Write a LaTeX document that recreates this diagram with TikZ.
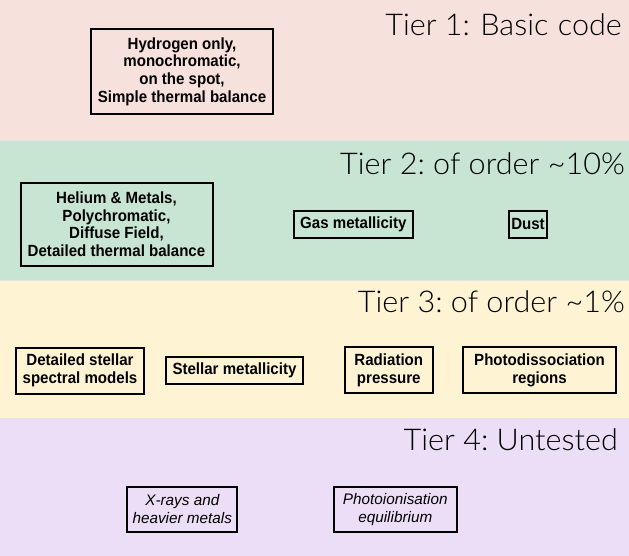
\documentclass[tikz,border=0pt]{standalone}
\usepackage{fontspec}
\setmainfont{Liberation Sans}
\newfontfamily\boxfont[FakeStretch=0.93]{Liberation Sans}
\newfontfamily\lightfont[Numbers=Monospaced,FakeStretch=1.02]{Lato Light}
\definecolor{tierA}{HTML}{F7E1DD}
\definecolor{tierB}{HTML}{C8E5D3}
\definecolor{tierC}{HTML}{FEF4D4}
\definecolor{tierD}{HTML}{ECDEF6}
\frenchspacing
\tikzset{
  tiertitle/.style={anchor=base east, inner sep=0pt, font=\lightfont\fontsize{30}{34}\selectfont},
  ibox/.style={draw=black, line width=2pt, inner sep=0pt, align=center,
    font=\boxfont\bfseries\fontsize{16.2}{17.6}\selectfont},
  tbox/.style={draw=black, line width=2pt, inner sep=0pt, align=center,
    font=\itshape\fontsize{15.3}{18}\selectfont},
}
\begin{document}
\begin{tikzpicture}[x=1pt,y=-1pt]
\useasboundingbox (0,0) rectangle (629,556);
\fill[tierA] (0,0) rectangle (629,141);
\fill[tierB] (0,141) rectangle (629,280);
\fill[tierC] (0,280) rectangle (629,418);
\fill[tierD] (0,418) rectangle (629,556);
\draw[black!10, line width=1pt] (0,141) -- (629,141) (0,280) -- (629,280) (0,418) -- (629,418);

\node[tiertitle] (t1) at (622,36) {Tier 1:\hspace{2pt} Basic\hspace{1pt} code};
\node[tiertitle] (t2) at (625,175) {Tier 2: of order \textasciitilde10\%};
\node[tiertitle] (t3) at (625,312) {Tier 3: of order \textasciitilde1\%};
\node[tiertitle] (t4) at (618,450.5) {Tier 4: Untested};

\node[ibox, minimum width=182, minimum height=85] (hyd) at (182,71.5)
  {Hydrogen only,\\monochromatic,\\on the spot,\\Simple thermal balance};
\node[ibox, minimum width=192, minimum height=83] (hel) at (116.5,224.2)
  {Helium \& Metals,\\Polychromatic,\\Diffuse Field,\\Detailed thermal balance};
\node[ibox, minimum width=118.7, minimum height=27.6] (gas) at (353.4,224.5) {Gas metallicity};
\node[ibox, minimum width=38, minimum height=27.6] (dust) at (528,224.5) {Dust};
\node[ibox, minimum width=128, minimum height=46] (dss) at (80,370.5)
  {Detailed stellar\\spectral models};
\node[ibox, minimum width=137.6, minimum height=27.6] (smet) at (234.5,370.5) {Stellar metallicity};
\node[ibox, minimum width=87.7, minimum height=46] (rad) at (388.8,370.3)
  {Radiation\\pressure};
\node[ibox, minimum width=152.4, minimum height=46] (pdr) at (539.5,370.3)
  {Photodissociation\\regions};
\node[tbox, minimum width=110, minimum height=45.6] (xray) at (182.3,509.5)
  {X-rays and\\heavier metals};
\node[tbox, minimum width=122.7, minimum height=45.6] (pie) at (395.3,509.5)
  {Photoionisation\\equilibrium};
\end{tikzpicture}
\end{document}
